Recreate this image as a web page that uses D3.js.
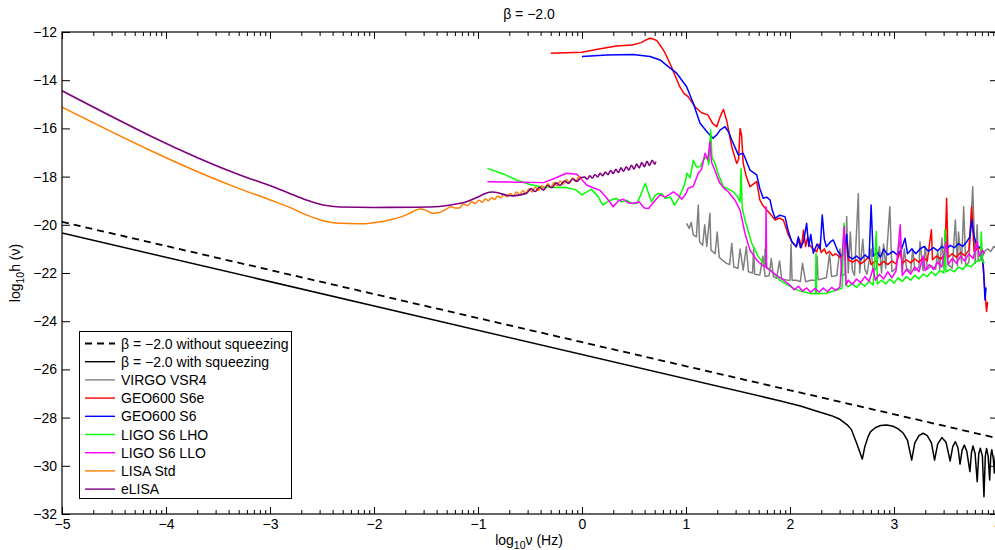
<!DOCTYPE html>
<html>
<head>
<meta charset="utf-8">
<script src="https://cdn.jsdelivr.net/npm/d3@7"></script>
<style>
  body { margin: 0; background: #fff; }
  svg { display: block; font-family: "Liberation Sans", Arial, Helvetica, sans-serif; }
</style>
</head>
<body>
<svg id="chart"></svg>
<script>
// Values, as [log10 nu, log10 h] pairs
let noSqueeze = [[-5,-19.88],[4,-28.86]]

let withSqueeze = [[-5,-20.34],[1.9,-27.3],[2.1,-27.52],[2.29,-27.78],[2.4,-27.92],[2.48,-28.07],[2.55,-28.3],[2.59,-28.49],
  [2.64,-29.05],[2.695,-29.72],[2.72,-29.2],[2.75,-28.8],[2.775,-28.58],[2.82,-28.42],[2.87,-28.33],[2.93,-28.31],
  [2.99,-28.36],[3.04,-28.47],[3.09,-28.65],[3.13,-28.95],[3.17,-29.76],[3.2,-29.05],[3.24,-28.75],[3.28,-28.65],
  [3.32,-28.75],[3.36,-29.05],[3.39,-29.76],[3.42,-29.1],[3.46,-28.83],[3.5,-29.02],[3.54,-29.8],[3.565,-29.2],
  [3.59,-29.0],[3.615,-29.25],[3.635,-29.93],[3.655,-29.35],[3.676,-29.14],[3.7,-29.4],[3.73,-30.24],[3.745,-29.45],
  [3.76,-29.18],[3.78,-29.5],[3.8,-30.66],[3.815,-29.5],[3.83,-29.27],[3.85,-29.6],[3.865,-31.28],[3.878,-29.6],
  [3.89,-29.28],[3.905,-29.6],[3.92,-30.59],[3.93,-29.6],[3.94,-29.33],[3.955,-29.7],[3.965,-30.3],[3.975,-29.6],
  [3.985,-29.4],[3.995,-29.8]]

let virgoVSR4 = [[1.006,-19.94],[1.03,-20.15],[1.05,-19.9],[1.07,-20.42],[1.1,-20.5],[1.118,-19.18],[1.13,-20.7],[1.16,-20.85],
  [1.18,-20.0],[1.2,-20.9],[1.23,-19.52],[1.24,-21.05],[1.28,-21.2],[1.3,-20.3],[1.32,-21.35],[1.36,-21.5],[1.39,-21.6],
  [1.42,-21.65],[1.44,-20.77],[1.46,-21.75],[1.5,-21.8],[1.52,-21.0],[1.55,-21.88],[1.58,-20.9],[1.6,-21.95],[1.64,-22.0],
  [1.65,-21.0],[1.66,-22.05],[1.71,-22.08],[1.74,-21.3],[1.76,-22.15],[1.8,-22.1],[1.82,-21.4],[1.84,-22.15],[1.87,-22.22],
  [1.9,-21.5],[1.92,-22.25],[1.97,-22.29],[2.0,-22.3],[2.01,-20.8],[2.02,-22.3],[2.06,-22.3],[2.1,-22.35],[2.12,-21.6],
  [2.15,-22.36],[2.2,-22.3],[2.25,-22.3],[2.26,-21.3],[2.27,-22.28],[2.3,-22.25],[2.35,-22.2],[2.38,-21.2],[2.4,-22.15],
  [2.45,-22.1],[2.48,-21.0],[2.5,-22.1],[2.53,-22.05],[2.545,-19.66],[2.56,-22.0],[2.58,-20.3],[2.6,-21.9],[2.62,-22.1],
  [2.657,-18.7],[2.67,-22.0],[2.7,-20.6],[2.72,-21.85],[2.74,-22.05],[2.78,-21.0],[2.8,-21.95],[2.83,-21.8],[2.86,-20.9],
  [2.88,-22.0],[2.9,-20.8],[2.92,-21.8],[2.96,-19.25],[2.98,-21.95],[3.02,-21.8],[3.06,-20.6],[3.08,-21.95],[3.1,-21.0],
  [3.12,-21.8],[3.16,-21.95],[3.18,-21.0],[3.2,-21.9],[3.24,-21.75],[3.25,-20.7],[3.28,-21.9],[3.3,-20.9],[3.32,-21.85],
  [3.36,-21.7],[3.4,-21.85],[3.42,-21.1],[3.44,-21.85],[3.46,-20.55],[3.48,-21.8],[3.5,-20.4],[3.52,-21.65],[3.56,-21.8],
  [3.59,-19.8],[3.61,-21.7],[3.62,-20.3],[3.65,-21.6],[3.67,-19.25],[3.69,-21.7],[3.72,-21.55],[3.757,-18.42],[3.78,-21.6],
  [3.8,-20.0],[3.81,-21.5],[3.84,-21.45],[3.87,-21.1],[3.9,-21.0],[3.93,-21.1],[3.96,-20.9],[4.0,-21.0]]

let geoS6e = [[-0.3,-12.88],[0,-12.84],[0.15,-12.72],[0.33,-12.58],[0.48,-12.54],[0.57,-12.44],[0.62,-12.32],[0.654,-12.26],
  [0.69,-12.3],[0.72,-12.36],[0.76,-12.6],[0.8,-12.88],[0.86,-13.44],[0.94,-14.27],[0.98,-14.55],[1.02,-14.68],[1.09,-15.12],
  [1.15,-15.35],[1.21,-15.44],[1.256,-15.79],[1.295,-15.93],[1.33,-15.5],[1.36,-15.21],[1.39,-15.65],[1.44,-16.76],
  [1.487,-17.45],[1.505,-17.3],[1.52,-16.0],[1.535,-16.3],[1.55,-17.45],[1.58,-18.0],[1.615,-18.42],[1.65,-18.3],[1.68,-18.21],
  [1.71,-18.97],[1.74,-19.2],[1.776,-19.39],[1.82,-19.6],[1.856,-19.8],[1.9,-19.72],[1.936,-19.8],[1.96,-20.1],[1.984,-20.42],
  [2.02,-20.7],[2.06,-20.91],[2.09,-20.6],[2.11,-20.95],[2.13,-20.22],[2.15,-20.9],[2.17,-20.5],[2.19,-20.85],[2.22,-21.0],
  [2.257,-21.12],[2.28,-20.8],[2.3,-21.15],[2.33,-21.0],[2.35,-21.2],[2.38,-21.1],[2.41,-21.28],[2.44,-21.2],[2.48,-21.35],
  [2.51,-21.25],[2.545,-20.7],[2.56,-21.45],[2.6,-21.55],[2.64,-21.45],[2.68,-21.62],[2.72,-21.5],[2.76,-21.3],[2.78,-21.65],
  [2.82,-21.5],[2.86,-21.68],[2.9,-21.52],[2.94,-21.65],[2.98,-21.5],[3.02,-21.62],[3.06,-21.1],[3.08,-21.6],[3.12,-21.45],
  [3.16,-21.58],[3.2,-21.42],[3.24,-21.55],[3.28,-21.35],[3.32,-21.5],[3.36,-20.2],[3.37,-21.45],[3.41,-21.3],[3.45,-21.42],
  [3.49,-21.22],[3.506,-18.9],[3.52,-21.35],[3.56,-21.2],[3.6,-21.35],[3.64,-21.15],[3.68,-21.28],[3.72,-21.05],[3.747,-19.25],
  [3.77,-21.1],[3.81,-20.95],[3.84,-21.0],[3.86,-21.88],[3.875,-22.8],[3.89,-23.6],[3.9,-23.2]]

let geoS6 = [[0,-13.02],[0.24,-12.95],[0.49,-12.93],[0.654,-13.02],[0.75,-13.16],[0.83,-13.44],[0.91,-13.71],[1.006,-14.27],
  [1.07,-14.96],[1.135,-15.79],[1.214,-16.2],[1.26,-16.41],[1.3,-16.25],[1.327,-16.07],[1.375,-15.93],[1.41,-16.15],[1.44,-16.48],
  [1.503,-17.1],[1.55,-17.03],[1.615,-17.73],[1.68,-17.93],[1.71,-18.5],[1.743,-18.9],[1.775,-18.85],[1.808,-18.97],[1.83,-19.4],
  [1.856,-19.73],[1.9,-19.6],[1.952,-19.66],[1.98,-20.2],[2.016,-20.7],[2.06,-20.91],[2.08,-20.5],[2.1,-20.95],[2.13,-20.7],
  [2.16,-19.94],[2.18,-20.9],[2.2,-20.4],[2.224,-21.18],[2.26,-20.8],[2.29,-21.0],[2.31,-19.59],[2.33,-20.6],[2.35,-20.91],
  [2.39,-20.7],[2.417,-20.63],[2.46,-21.1],[2.497,-21.32],[2.52,-21.1],[2.545,-20.4],[2.56,-21.3],[2.6,-21.42],[2.64,-21.3],
  [2.68,-21.45],[2.72,-21.25],[2.76,-21.4],[2.78,-19.18],[2.8,-21.3],[2.84,-21.15],[2.87,-21.35],[2.9,-21.0],[2.94,-21.25],
  [2.99,-21.1],[3.03,-21.25],[3.07,-21.05],[3.106,-20.56],[3.13,-21.2],[3.17,-21.0],[3.21,-21.2],[3.25,-21.0],[3.29,-20.9],
  [3.33,-21.1],[3.38,-20.95],[3.42,-21.08],[3.46,-20.9],[3.5,-21.02],[3.54,-20.85],[3.58,-20.95],[3.62,-20.78],[3.66,-20.9],
  [3.7,-20.7],[3.73,-20.5],[3.747,-19.8],[3.77,-20.5],[3.8,-20.9],[3.84,-20.95],[3.86,-21.8],[3.875,-23.12],[3.885,-22.6]]

let ligoLHO = [[-0.91,-17.66],[-0.75,-17.9],[-0.63,-18.14],[-0.5,-18.33],[-0.4,-18.42],[-0.25,-18.45],[-0.15,-18.45],
  [-0.06,-18.55],[0,-18.76],[0.05,-18.62],[0.09,-18.53],[0.15,-18.8],[0.2,-19.18],[0.26,-19.0],[0.33,-18.9],[0.38,-19.05],
  [0.43,-18.98],[0.48,-19.12],[0.53,-19.11],[0.57,-18.7],[0.61,-18.28],[0.64,-18.7],[0.67,-19.04],[0.7,-18.8],[0.73,-18.7],
  [0.77,-18.72],[0.8,-18.9],[0.85,-18.85],[0.89,-19.18],[0.93,-18.9],[0.96,-18.6],[0.99,-18.28],[1.01,-17.86],[1.04,-18.05],
  [1.07,-17.32],[1.1,-17.6],[1.135,-17.59],[1.17,-17.3],[1.2,-17.17],[1.22,-17.5],[1.237,-16.07],[1.25,-17.2],[1.28,-17.45],
  [1.31,-17.9],[1.36,-18.42],[1.4,-18.5],[1.455,-18.63],[1.49,-18.8],[1.52,-19.04],[1.53,-17.66],[1.54,-19.3],[1.567,-19.8],
  [1.6,-20.3],[1.632,-20.77],[1.66,-21.0],[1.695,-21.32],[1.73,-21.5],[1.755,-21.65],[1.76,-21.0],[1.765,-21.7],[1.776,-21.74],
  [1.84,-22.0],[1.9,-22.29],[1.96,-22.45],[2.03,-22.63],[2.1,-22.75],[2.19,-22.84],[2.245,-22.86],[2.25,-21.2],[2.255,-22.86],
  [2.35,-22.84],[2.42,-22.75],[2.5,-22.63],[2.52,-19.94],[2.535,-22.5],[2.56,-22.57],[2.6,-22.45],[2.64,-22.6],[2.68,-22.42],
  [2.72,-22.55],[2.76,-22.35],[2.8,-22.5],[2.83,-20.28],[2.84,-22.45],[2.88,-22.3],[2.92,-22.45],[2.96,-22.25],[3.0,-22.42],
  [3.04,-22.2],[3.08,-22.35],[3.12,-22.15],[3.16,-22.3],[3.2,-22.1],[3.24,-22.25],[3.28,-22.05],[3.32,-22.15],[3.36,-21.95],
  [3.4,-22.1],[3.44,-21.9],[3.48,-22.0],[3.49,-20.2],[3.5,-21.95],[3.54,-21.85],[3.58,-21.95],[3.62,-21.75],[3.66,-21.85],
  [3.7,-21.65],[3.74,-21.75],[3.78,-21.55],[3.83,-21.46],[3.84,-20.3],[3.85,-21.5],[3.87,-21.6]]

let ligoLLO = [[-0.91,-18.21],[-0.6,-18.23],[-0.37,-18.25],[-0.25,-18.05],[-0.15,-17.86],[-0.05,-17.9],[0.045,-18.35],
  [0.1,-18.45],[0.17,-18.56],[0.24,-18.9],[0.3,-19.25],[0.35,-19.0],[0.4,-18.94],[0.45,-19.1],[0.49,-19.11],[0.55,-19.05],
  [0.6,-19.3],[0.64,-19.32],[0.7,-19.0],[0.75,-18.76],[0.8,-18.85],[0.88,-18.63],[0.93,-18.8],[0.96,-18.94],[1.0,-18.7],
  [1.02,-18.49],[1.07,-18.4],[1.118,-17.86],[1.15,-17.7],[1.183,-17.03],[1.21,-17.3],[1.23,-16.55],[1.245,-17.4],[1.264,-17.59],
  [1.3,-18.0],[1.327,-18.28],[1.37,-18.5],[1.407,-18.63],[1.47,-18.97],[1.52,-19.39],[1.567,-20.35],[1.615,-21.05],[1.68,-21.46],
  [1.74,-21.7],[1.765,-21.75],[1.77,-19.25],[1.775,-21.8],[1.808,-21.88],[1.87,-22.1],[1.936,-22.29],[2.0,-22.5],[2.04,-22.7],
  [2.08,-22.55],[2.12,-22.75],[2.16,-22.62],[2.2,-22.8],[2.24,-22.64],[2.28,-22.8],[2.32,-22.62],[2.36,-22.78],[2.4,-22.6],
  [2.44,-22.72],[2.48,-22.58],[2.52,-20.08],[2.54,-22.5],[2.56,-22.3],[2.6,-22.48],[2.64,-22.25],[2.68,-22.4],[2.72,-22.15],
  [2.76,-22.35],[2.8,-21.8],[2.82,-22.3],[2.86,-22.05],[2.9,-22.25],[2.94,-21.95],[2.98,-22.2],[3.02,-21.9],[3.06,-20.0],
  [3.08,-22.1],[3.12,-21.85],[3.16,-22.05],[3.2,-21.75],[3.24,-21.95],[3.28,-21.3],[3.3,-21.9],[3.34,-21.65],[3.38,-21.85],
  [3.42,-21.55],[3.46,-21.75],[3.5,-20.7],[3.52,-21.65],[3.56,-21.4],[3.6,-21.6],[3.64,-21.3],[3.68,-21.5],[3.72,-21.2],
  [3.76,-21.4],[3.8,-20.7],[3.82,-21.3],[3.85,-21.05],[3.87,-21.2]]

let lisaStd = [[-5,-15.12],[-3.29,-18.51],[-2.97,-19.01],[-2.8,-19.3],[-2.65,-19.59],[-2.49,-19.83],[-2.33,-19.94],
  [-2.15,-19.96],[-2,-19.91],[-1.85,-19.8],[-1.69,-19.59],[-1.62,-19.44],[-1.56,-19.34],[-1.5,-19.4],[-1.44,-19.52],
  [-1.38,-19.5],[-1.31,-19.36],[-1.26,-19.25],[-1.22,-19.3],[-1.18,-19.3],[-1.14,-19.14],[-1.1,-19.2],[-1.06,-19.04],
  [-1.03,-19.12],[-0.99,-18.98],[-0.96,-19.07],[-0.93,-18.93],[-0.9,-19.0],[-0.87,-18.88],[-0.84,-18.95],[-0.81,-18.8],
  [-0.78,-18.88],[-0.75,-18.74],[-0.72,-18.84],[-0.69,-18.7],[-0.66,-18.8],[-0.63,-18.64],[-0.6,-18.76],[-0.57,-18.58],
  [-0.54,-18.7],[-0.51,-18.5],[-0.48,-18.64],[-0.45,-18.44],[-0.42,-18.58],[-0.39,-18.38],[-0.36,-18.5],[-0.33,-18.3],
  [-0.3,-18.45],[-0.27,-18.24],[-0.24,-18.38],[-0.21,-18.18],[-0.18,-18.32],[-0.15,-18.12],[-0.12,-18.26],[-0.09,-18.06],
  [-0.06,-18.2],[-0.03,-18.0],[0,-18.12]]

let eLISA = [[-5,-14.44],[-3.29,-17.93],[-2.97,-18.42],[-2.8,-18.72],[-2.65,-18.97],[-2.49,-19.18],[-2.33,-19.26],
  [-2.0,-19.28],[-1.6,-19.27],[-1.37,-19.24],[-1.2,-19.13],[-1.11,-19.04],[-1.0,-18.85],[-0.93,-18.7],[-0.86,-18.64],
  [-0.8,-18.68],[-0.72,-18.78],[-0.66,-18.8],[-0.6,-18.76],[-0.53,-18.68],[-0.49,-18.5],[-0.45,-18.62],[-0.41,-18.44],
  [-0.37,-18.56],[-0.33,-18.36],[-0.29,-18.46],[-0.25,-18.26],[-0.21,-18.36],[-0.17,-18.18],[-0.13,-18.28],[-0.09,-18.1],
  [-0.05,-18.2],[-0.01,-18.04],[0.025,-18.02],[0.05,-18.11],[0.075,-17.97],[0.1,-18.06],[0.125,-17.91],[0.15,-18.01],
  [0.175,-17.86],[0.2,-17.96],[0.225,-17.81],[0.25,-17.92],[0.275,-17.75],[0.3,-17.87],[0.325,-17.7],[0.35,-17.83],
  [0.375,-17.64],[0.4,-17.78],[0.425,-17.59],[0.45,-17.73],[0.475,-17.53],[0.5,-17.69],[0.525,-17.48],[0.55,-17.64],
  [0.575,-17.42],[0.6,-17.59],[0.625,-17.37],[0.65,-17.54],[0.675,-17.32],[0.7,-17.49],[0.71,-17.38]]

let legendNames = ['\u03b2 = \u22122.0 without squeezing', '\u03b2 = \u22122.0 with squeezing', 'VIRGO VSR4',
  'GEO600 S6e', 'GEO600 S6', 'LIGO S6 LHO', 'LIGO S6 LLO', 'LISA Std', 'eLISA']
let seriesColors = ['#000000', '#000000', '#808080', '#ff0000', '#0000ff', '#00ff00', '#ff00ff', '#ff8000', '#800080']
let xTicks = [-5, -4, -3, -2, -1, 0, 1, 2, 3, 4]
let yTicks = [-32, -30, -28, -26, -24, -22, -20, -18, -16, -14, -12]

let allSeries = [noSqueeze, withSqueeze, virgoVSR4, geoS6e, geoS6, ligoLHO, ligoLLO, lisaStd, eLISA]

// canvas and plot box
let width = 995
let height = 550
let plotLeft = 62, plotRight = 998, plotTop = 32, plotBottom = 514

let svg = d3.select('#chart').attr('width', width).attr('height', height)

let xScale = d3.scaleLinear().domain([-5, 4]).range([plotLeft, plotRight])
let yScale = d3.scaleLinear().domain([-32, -12]).range([plotBottom, plotTop])

svg.append('clipPath').attr('id', 'plotclip')
  .append('rect').attr('x', plotLeft).attr('y', plotTop)
  .attr('width', plotRight - plotLeft).attr('height', plotBottom - plotTop)

// curves: the two LISA curves are smooth, the others are drawn point to point
let line = d3.line().x(d => xScale(d[0])).y(d => yScale(d[1]))
let smoothLine = d3.line().x(d => xScale(d[0])).y(d => yScale(d[1])).curve(d3.curveMonotoneX)
let curves = svg.append('g').attr('clip-path', 'url(#plotclip)')
allSeries.forEach((s, i) => {
  curves.append('path')
    .attr('d', i >= 7 ? smoothLine(s) : line(s))
    .attr('fill', 'none')
    .attr('stroke', seriesColors[i])
    .attr('stroke-width', i === 0 ? 1.8 : (i === 8 ? 1.6 : 1.5))
    .attr('stroke-dasharray', i === 0 ? '7,5' : null)
    .attr('stroke-linejoin', 'round')
})

// minor ticks of the log frequency axis (positions inside each decade)
let minorTicks = []
for (let k = -5; k < 4; k++) {
  for (let m = 2; m <= 9; m++) minorTicks.push(k + Math.log10(m))
}

let styleAxis = g => {
  g.select('.domain').remove()
  g.selectAll('line').attr('stroke', '#000')
  g.selectAll('text').attr('font-size', 14).attr('fill', '#000')
}

svg.append('g').attr('transform', 'translate(0,' + plotBottom + ')')
  .call(d3.axisBottom(xScale).tickValues(xTicks).tickSizeInner(-7).tickSizeOuter(0).tickPadding(5).tickFormat(d3.format('d')))
  .call(styleAxis)
svg.append('g').attr('transform', 'translate(0,' + plotBottom + ')')
  .call(d3.axisBottom(xScale).tickValues(minorTicks).tickSizeInner(-4).tickSizeOuter(0).tickFormat(''))
  .call(styleAxis)
svg.append('g').attr('transform', 'translate(0,' + plotTop + ')')
  .call(d3.axisTop(xScale).tickValues(xTicks).tickSizeInner(-7).tickSizeOuter(0).tickFormat(''))
  .call(styleAxis)
svg.append('g').attr('transform', 'translate(0,' + plotTop + ')')
  .call(d3.axisTop(xScale).tickValues(minorTicks).tickSizeInner(-4).tickSizeOuter(0).tickFormat(''))
  .call(styleAxis)
svg.append('g').attr('transform', 'translate(' + plotLeft + ',0)')
  .call(d3.axisLeft(yScale).tickValues(yTicks).tickSizeInner(-8).tickSizeOuter(0).tickPadding(5).tickFormat(d3.format('d')))
  .call(styleAxis)
svg.append('g').attr('transform', 'translate(' + plotRight + ',0)')
  .call(d3.axisRight(yScale).tickValues(yTicks).tickSizeInner(-8).tickSizeOuter(0).tickFormat(''))
  .call(styleAxis)

svg.append('rect')
  .attr('x', plotLeft).attr('y', plotTop)
  .attr('width', plotRight - plotLeft).attr('height', plotBottom - plotTop)
  .attr('fill', 'none').attr('stroke', '#000').attr('stroke-width', 1.2)

// title and axis labels
svg.append('text').attr('x', 529).attr('y', 19).attr('text-anchor', 'middle')
  .attr('font-size', 14).text('\u03b2 = \u22122.0')

let xl = svg.append('text').attr('x', 529).attr('y', 545).attr('text-anchor', 'middle').attr('font-size', 14)
xl.append('tspan').text('log')
xl.append('tspan').attr('dy', 4).attr('font-size', 10.5).text('10')
xl.append('tspan').attr('dy', -4).text('\u03bd (Hz)')

let yl = svg.append('text').attr('transform', 'translate(20,273) rotate(-90)')
  .attr('text-anchor', 'middle').attr('font-size', 14)
yl.append('tspan').text('log')
yl.append('tspan').attr('dy', 4).attr('font-size', 10.5).text('10')
yl.append('tspan').attr('dy', -4).text('h (\u03bd)')

// legend
let legend = svg.append('g')
legend.append('rect').attr('x', 79.5).attr('y', 331.5).attr('width', 212).attr('height', 167)
  .attr('fill', '#fff').attr('stroke', '#000').attr('stroke-width', 1)
legendNames.forEach((name, i) => {
  let ly = 343.5 + i * 18.2
  legend.append('line').attr('x1', 85).attr('x2', 115).attr('y1', ly).attr('y2', ly)
    .attr('stroke', seriesColors[i]).attr('stroke-width', i === 0 ? 1.8 : 1.4)
    .attr('stroke-dasharray', i === 0 ? '7,5' : null)
  legend.append('text').attr('x', 121).attr('y', ly + 5).attr('font-size', 14).text(name)
})
</script>
</body>
</html>
